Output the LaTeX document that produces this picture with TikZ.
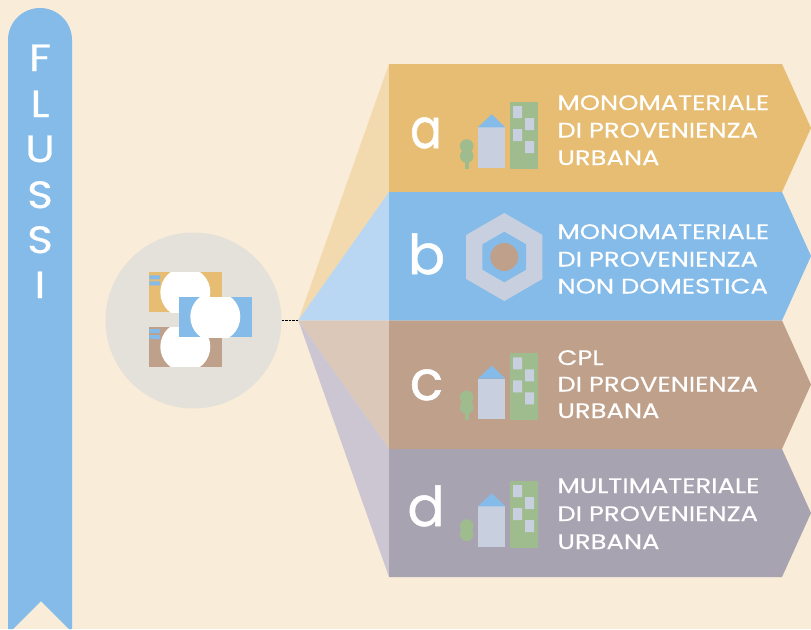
\documentclass[tikz,border=0pt]{standalone}
\usepackage{fontspec}
\setmainfont{Poppins}
\newfontfamily\labelface[FakeStretch=1.23,FakeBold=0.35]{Poppins}
\newfontfamily\bigface[FakeBold=0.9]{Poppins}
\newfontfamily\narrowface[FakeStretch=0.85,FakeBold=0.9]{Poppins}
\newfontfamily\ribbonface[FakeStretch=1.15,FakeBold=0.7]{Poppins}
\definecolor{bgc}{HTML}{F9ECD8}
\definecolor{hubc}{HTML}{E4E1DA}
\definecolor{acol}{HTML}{E6BD73}
\definecolor{bcol}{HTML}{85BBE8}
\definecolor{ccol}{HTML}{BFA08A}
\definecolor{dcol}{HTML}{A8A3B1}
\definecolor{afan}{HTML}{F2D9AE}
\definecolor{bfan}{HTML}{B9D6F2}
\definecolor{cfan}{HTML}{DCC8B8}
\definecolor{dfan}{HTML}{CCC6D3}
\definecolor{treec}{HTML}{9FBC8E}
\definecolor{palec}{HTML}{C8D0DF}
\tikzset{
  label text/.style={anchor=base west,inner sep=0pt,text=white,font=\labelface\fontsize{21}{24}\selectfont},
  big letter/.style={anchor=base,inner sep=0pt,text=white,font=\bigface\fontsize{55}{60}\selectfont},
  narrow letter/.style={anchor=base,inner sep=0pt,text=white,font=\narrowface\fontsize{55}{60}\selectfont},
  ribbon letter/.style={anchor=base,inner sep=0pt,text=white,font=\ribbonface\fontsize{38}{40}\selectfont},
  pics/town/.style={code={
    \fill[treec] (510,102) rectangle (538,169);
    \fill[palec] (513,106) rectangle (522,118) (525,118) rectangle (534,130)
                 (513,129) rectangle (522,141) (525,141) rectangle (534,153);
    \fill[palec] (478,127.3) rectangle (505.3,168);
    \fill[bcol] (478,127.3) -- (491.7,114.3) -- (505.3,127.3) -- cycle;
    \fill[treec] (466.7,146) circle (6.8) (466.7,156) circle (6.8);
    \fill[treec] (465,156) rectangle (469,169);
  }},
  pics/towntrunkless/.style={code={
    \fill[treec] (510,102) rectangle (538,169);
    \fill[palec] (513,106) rectangle (522,118) (525,118) rectangle (534,130)
                 (513,129) rectangle (522,141) (525,141) rectangle (534,153);
    \fill[palec] (478,127.3) rectangle (505.3,168);
    \fill[bcol] (478,127.3) -- (491.7,114.3) -- (505.3,127.3) -- cycle;
    \fill[treec] (466.7,147) circle (6.8) (466.7,155.3) circle (6.8);
  }}
}
\begin{document}
\begin{tikzpicture}[x=1pt,y=-1pt]
\useasboundingbox (0,0) rectangle (811,629);
\fill[bgc] (0,0) rectangle (811,629);
% ribbon
\fill[bcol] (8,629) -- (8,40) arc[start angle=180,end angle=360,radius=32] -- (72,629) -- (69,629) -- (41,601) -- (13,629) -- cycle;
\node[ribbon letter] (f1) at (40,71) {F};
\node[ribbon letter] (f2) at (40,117) {L};
\node[ribbon letter] (f3) at (40,162) {U};
\node[ribbon letter] (f4) at (40,208) {S};
\node[ribbon letter] (f5) at (40,253) {S};
\node[ribbon letter] (f6) at (40,298) {I};
% fan
\coordinate (apex) at (298.3,320.5);
\fill[afan] (apex) -- (389,64) -- (389,192) -- cycle;
\fill[bfan] (apex) -- (389,192) -- (389,320.5) -- cycle;
\fill[cfan] (apex) -- (389,320.5) -- (389,449) -- cycle;
\fill[dfan] (apex) -- (389,449) -- (389,577) -- cycle;
% panels
\fill[acol] (389,64) -- (782,64) -- (811,128) -- (782,192) -- (389,192) -- cycle;
\fill[bcol] (389,192) -- (782,192) -- (811,256) -- (782,320.5) -- (389,320.5) -- cycle;
\fill[ccol] (389,320.5) -- (782,320.5) -- (811,384.5) -- (782,449) -- (389,449) -- cycle;
\fill[dcol] (389,449) -- (782,449) -- (811,513) -- (782,577) -- (389,577) -- cycle;
% hub
\node[circle,fill=hubc,minimum size=176pt,inner sep=0pt] (hub) at (193.5,320.5) {};
\draw[black,line width=0.6pt,dash pattern=on 2.5pt off 1pt] (hub.east) -- (apex);
% hub icon
\fill[acol] (149.3,272.3) rectangle (221.7,312.3);
\begin{scope}
  \clip (149.3,272.3) rectangle (221.7,312.3);
  \fill[white] (185.3,292.3) circle (25);
\end{scope}
\fill[bcol] (149.3,275.3) rectangle (160,279.3) (149.3,281.3) rectangle (160,285.3);
\fill[ccol] (149.3,327) rectangle (221.7,366.7);
\begin{scope}
  \clip (149.3,327) rectangle (221.7,366.7);
  \fill[white] (185.3,346.7) circle (25);
\end{scope}
\fill[bcol] (149.3,329) rectangle (160,333) (149.3,335) rectangle (160,339);
\fill[bcol] (179.3,297) rectangle (251.7,337);
\begin{scope}
  \clip (179.3,297) rectangle (251.7,337);
  \fill[white] (215.3,316.7) circle (25);
\end{scope}
% icons
\pic at (0,0) {town};
\pic at (0,251.3) {town};
\pic at (0,379) {towntrunkless};
\fill[palec] (504.3,213) -- (542.4,235) -- (542.4,279) -- (504.3,301) -- (466.2,279) -- (466.2,235) -- cycle;
\fill[bcol] (504.3,231.7) -- (526.2,244.35) -- (526.2,269.65) -- (504.3,282.3) -- (482.4,269.65) -- (482.4,244.35) -- cycle;
\fill[ccol] (504.3,257) circle (14);
% letters
\node[narrow letter] (la) at (426,148) {a};
\node[big letter] (lb) at (426.5,274) {b};
\node[big letter] (lc) at (426.5,400) {c};
\node[big letter] (ld) at (426,526) {d};
% labels
\node[label text] (a1) at (557.3,110) {MONOMATERIALE};
\node[label text] (a2) at (557.3,137.5) {DI PROVENIENZA};
\node[label text] (a3) at (557.3,165) {URBANA};
\node[label text] (b1) at (557.3,239) {MONOMATERIALE};
\node[label text] (b2) at (557.3,266.5) {DI PROVENIENZA};
\node[label text] (b3) at (557.3,293.5) {NON DOMESTICA};
\node[label text] (c1) at (557.3,365) {CPL};
\node[label text] (c2) at (557.3,391.5) {DI PROVENIENZA};
\node[label text] (c3) at (557.3,418) {URBANA};
\node[label text] (d1) at (557.3,493) {MULTIMATERIALE};
\node[label text] (d2) at (557.3,521) {DI PROVENIENZA};
\node[label text] (d3) at (557.3,549) {URBANA};
\end{tikzpicture}
\end{document}
